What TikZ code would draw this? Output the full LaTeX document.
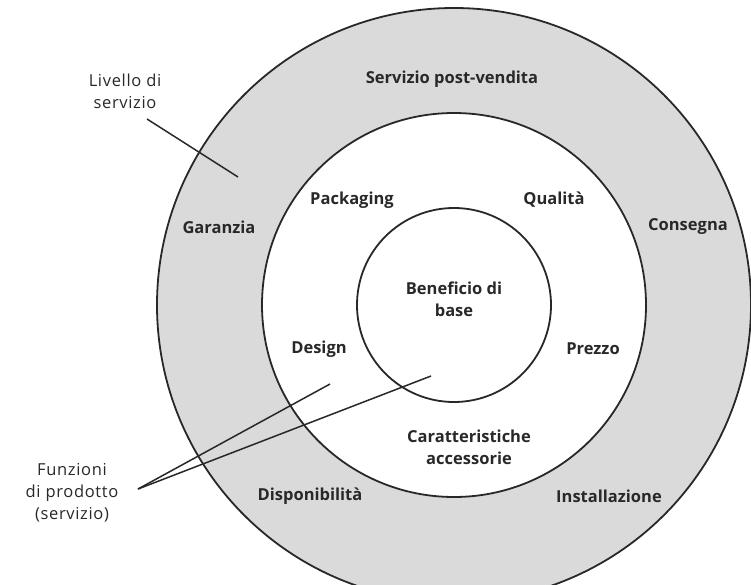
\documentclass[tikz,border=0pt]{standalone}
\usepackage{fontspec}
\setmainfont{Open Sans}
\definecolor{ringgray}{RGB}{218,218,218}
\definecolor{ink}{RGB}{40,40,40}
\begin{document}
\begin{tikzpicture}[x=1pt,y=-1pt,
  ring/.style={circle, draw=ink, line width=1.8pt, inner sep=0pt},
  lbl/.style={font=\fontsize{16.5}{22}\selectfont\bfseries, text=ink, align=center, inner sep=0pt},
  side/.style={font=\fontsize{16.5}{22}\selectfont\addfontfeatures{LetterSpace=4}, text=ink, align=center, inner sep=0pt},
  pointer/.style={draw=ink, line width=1.5pt}]
\useasboundingbox (0,0) rectangle (751,584);
\begin{scope}
  \clip (0,0) rectangle (751,584);
  % three concentric levels
  \node[ring, fill=ringgray, minimum size=594pt] (outer) at (454,305) {};
  \node[ring, fill=white, minimum size=384pt] (middle) at (454,305) {};
  \node[ring, fill=white, minimum size=194pt] (inner) at (454,305) {};
\end{scope}

% outer ring: service level
\node[lbl] (servizio) at (452,79) {Servizio post-vendita};
\node[lbl] (garanzia) at (219,227) {Garanzia};
\node[lbl] (consegna) at (688,227) {Consegna};
\node[lbl] (disponibilita) at (310,496) {Disponibilità};
\node[lbl] (installazione) at (609,496) {Installazione};

% middle ring: product functions
\node[lbl] (packaging) at (352,200) {Packaging};
\node[lbl] (qualita) at (554,200) {Qualità};
\node[lbl] (design) at (319,349) {Design};
\node[lbl] (prezzo) at (593,349) {Prezzo};
\node[lbl] (caratteristiche) at (469,447) {Caratteristiche\\accessorie};

% core
\node[lbl] (beneficio) at (454,299) {Beneficio di\\base};

% side captions
\node[side] (livello) at (125,91) {Livello di\\servizio};
\node[side] (funzioni) at (72,493) {Funzioni\\di prodotto\\(servizio)};

\coordinate (lvlStart) at (147,119);
\coordinate (lvlEnd) at (238,177);
\coordinate (funStart) at (138,489);
\coordinate (funEndA) at (330,384);
\coordinate (funEndB) at (431,376);

\draw[pointer] (lvlStart) -- (lvlEnd);
\draw[pointer] (funStart) -- (funEndA);
\draw[pointer] (funStart) -- (funEndB);
\end{tikzpicture}
\end{document}
